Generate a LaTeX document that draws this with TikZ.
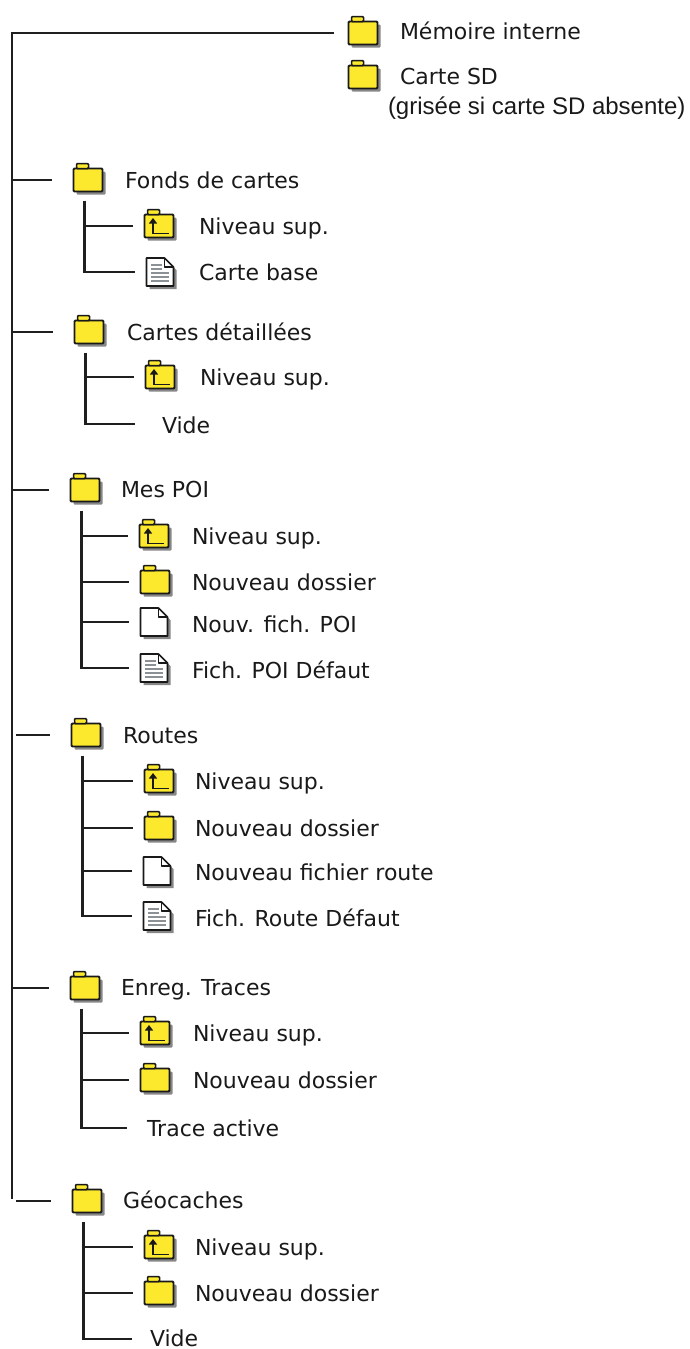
\documentclass[tikz,border=0pt]{standalone}
\usepackage{fontspec}
\setmainfont{DejaVu Sans}
\newfontfamily\helvfont{Liberation Sans}
\usetikzlibrary{shadows,arrows.meta}
\definecolor{folderyellow}{RGB}{252,232,44}
\definecolor{iconline}{RGB}{25,25,25}
\definecolor{shadowgray}{RGB}{135,135,135}
\definecolor{doclinegray}{RGB}{140,145,150}
\newcommand\docicon[2]{%
  \fill[shadowgray] ([shift={(3pt,-3pt)}]#1.south west) -- ([shift={(3pt,-3pt)}]#1.north west)
    -- ([shift={(-6pt,-3pt)}]#1.north east) -- ([shift={(3pt,-12pt)}]#1.north east)
    -- ([shift={(3pt,-3pt)}]#1.south east) -- cycle;
  \draw[docpage] (#1.south west) -- (#1.north west) -- ([xshift=-9pt]#1.north east)
    -- ([yshift=-9pt]#1.north east) -- (#1.south east) -- cycle;
  \draw[docpage,fill=none] ([xshift=-9pt]#1.north east) -- ([shift={(-9pt,-9pt)}]#1.north east) -- ([yshift=-9pt]#1.north east);
  \ifnum#2=1
    \foreach \d in {7pt,11pt} \draw[docl] ([shift={(4.5pt,-\d)}]#1.north west) -- ([shift={(-11.5pt,-\d)}]#1.north east);
    \foreach \d in {15pt,19pt,23pt} \draw[docl] ([shift={(4.5pt,-\d)}]#1.north west) -- ([shift={(-4.5pt,-\d)}]#1.north east);
  \fi
}
\begin{document}
\begin{tikzpicture}[x=1pt,y=-1pt,
  conn/.style={line width=2.3pt, draw=black!88},
  folderbody/.style={draw=iconline, fill=folderyellow, line width=1.8pt, minimum width=29pt, minimum height=23pt,
    inner sep=0pt, outer sep=0pt, rounded corners=1pt,
    drop shadow={shadow xshift=3pt, shadow yshift=-3pt, fill=shadowgray, opacity=1}},
  foldertab/.style={draw=iconline, fill=folderyellow, line width=1.5pt, rounded corners=1pt},
  uparrow/.style={draw=iconline, line width=1.8pt, -{Triangle[width=8pt,length=5.5pt]}},
  docnode/.style={minimum width=27pt, minimum height=28pt, inner sep=0pt, outer sep=0pt},
  docpage/.style={draw=iconline, fill=white, line width=1.6pt, line join=round},
  docl/.style={draw=doclinegray, line width=1.5pt},
  itemtext/.style={anchor=base west, inner sep=0pt, outer sep=0pt, font=\fontsize{22}{26}\selectfont, yshift=-8pt, text=black!90},
  notetext/.style={anchor=base west, inner sep=0pt, outer sep=0pt, font=\helvfont\fontsize{24}{28}\selectfont, yshift=-8.5pt, text=black!90},
]
\useasboundingbox (0,0) rectangle (690,1349);

% ---- icons: folders ----
\node[folderbody] (mem) at (363,33) {};
\node[folderbody] (sd) at (363,77) {};
\node[folderbody] (fonds) at (88,180) {};
\node[folderbody] (cartes) at (89,332) {};
\node[folderbody] (poi) at (85,490) {};
\node[folderbody] (routes) at (86,735) {};
\node[folderbody] (traces) at (85,988) {};
\node[folderbody] (geo) at (87,1201) {};
\node[folderbody] (fn) at (159,226) {};
\node[folderbody] (cn) at (160,377) {};
\node[folderbody] (pn) at (154,536) {};
\node[folderbody] (pd) at (155,582) {};
\node[folderbody] (rn) at (159,781) {};
\node[folderbody] (rd) at (159,828) {};
\node[folderbody] (tn) at (155,1033) {};
\node[folderbody] (td) at (155,1080) {};
\node[folderbody] (gn) at (159,1247) {};
\node[folderbody] (gd) at (159,1293) {};
\foreach \n in {mem,sd,fonds,cartes,poi,routes,traces,geo,fn,cn,pn,pd,rn,rd,tn,td,gn,gd}
  \draw[foldertab] (\n.north west) ++(3pt,0pt) rectangle ++(12pt,5pt);
\foreach \n in {fn,cn,pn,rn,tn,gn}
  \draw[uparrow] ([shift={(9.5pt,-7.5pt)}]\n.center) -- ([shift={(-6pt,-7.5pt)}]\n.center) -- ([shift={(-6pt,8pt)}]\n.center);

% ---- icons: documents ----
\node[docnode] (fb) at (160,272) {};
\node[docnode] (pf) at (154,622) {};
\node[docnode] (pdef) at (154,668) {};
\node[docnode] (rf) at (157,871) {};
\node[docnode] (rdef) at (157,916) {};
\docicon{fb}{1}
\docicon{pf}{0}
\docicon{pdef}{1}
\docicon{rf}{0}
\docicon{rdef}{1}

% ---- free ends ----
\coordinate (trunktop) at (12,33);
\coordinate (trunkbot) at (12,1199);
\coordinate (cvend) at (135,424);
\coordinate (taend) at (127,1128);
\coordinate (gvend) at (132,1339);

% ---- connectors ----
\draw[conn] ([xshift=-15pt]mem.west) -- (trunktop) -- (trunkbot);
\foreach \n/\s in {fonds/0pt,cartes/0pt,poi/0pt,routes/4pt,traces/0pt,geo/4pt}
  \draw[conn] ([xshift=\s]trunktop |- \n.center) -- ([xshift=-22pt]\n.west);
\foreach \n in {fonds,cartes,poi,routes,traces,geo}
  \coordinate (\n-s) at ([shift={(11pt,-9pt)}]\n.south west);
\draw[conn] (fonds-s) |- ([xshift=-12pt]fb.west);
\draw[conn] (fonds-s |- fn.center) -- ([xshift=-12pt]fn.west);
\draw[conn] (cartes-s) |- (cvend);
\draw[conn] (cartes-s |- cn.center) -- ([xshift=-12pt]cn.west);
\draw[conn] (poi-s) |- ([xshift=-12pt]pdef.west);
\foreach \n in {pn,pd,pf} \draw[conn] (poi-s |- \n.center) -- ([xshift=-12pt]\n.west);
\draw[conn] (routes-s) |- ([xshift=-12pt]rdef.west);
\foreach \n in {rn,rd,rf} \draw[conn] (routes-s |- \n.center) -- ([xshift=-12pt]\n.west);
\draw[conn] (traces-s) |- (taend);
\foreach \n in {tn,td} \draw[conn] (traces-s |- \n.center) -- ([xshift=-12pt]\n.west);
\draw[conn] (geo-s) |- (gvend);
\foreach \n in {gn,gd} \draw[conn] (geo-s |- \n.center) -- ([xshift=-12pt]\n.west);

% ---- texts ----
\node[itemtext] (memt) at (400,31) {Mémoire interne};
\node[itemtext] (sdt) at (400,76) {Carte SD};
\node[notetext] (sdnote) at (388,106) {(grisée si carte SD absente)};
\node[itemtext] (fondst) at (125,180) {Fonds de cartes};
\node[itemtext] (fnt) at (199,226) {Niveau sup.};
\node[itemtext] (fbt) at (199,272) {Carte base};
\node[itemtext] (cartest) at (127,332) {Cartes détaillées};
\node[itemtext] (cnt) at (200,377) {Niveau sup.};
\node[itemtext] (cvt) at (162,425) {Vide};
\node[itemtext] (poit) at (121,489) {Mes POI};
\node[itemtext] (pnt) at (192,536) {Niveau sup.};
\node[itemtext] (pdt) at (192,582) {Nouveau dossier};
\node[itemtext] (pft) at (192,624) {Nouv. fich. POI};
\node[itemtext] (pdeft) at (192,670) {Fich. POI Défaut};
\node[itemtext] (routest) at (123,735) {Routes};
\node[itemtext] (rnt) at (195,781) {Niveau sup.};
\node[itemtext] (rdt) at (195,828) {Nouveau dossier};
\node[itemtext] (rft) at (195,872) {Nouveau fichier route};
\node[itemtext] (rdeft) at (195,918) {Fich. Route Défaut};
\node[itemtext] (tracest) at (121,987) {Enreg. Traces};
\node[itemtext] (tnt) at (193,1033) {Niveau sup.};
\node[itemtext] (tdt) at (193,1080) {Nouveau dossier};
\node[itemtext] (tat) at (147,1128) {Trace active};
\node[itemtext] (geot) at (123,1200) {Géocaches};
\node[itemtext] (gnt) at (195,1247) {Niveau sup.};
\node[itemtext] (gdt) at (195,1293) {Nouveau dossier};
\node[itemtext] (gvt) at (150,1338) {Vide};
\end{tikzpicture}
\end{document}
